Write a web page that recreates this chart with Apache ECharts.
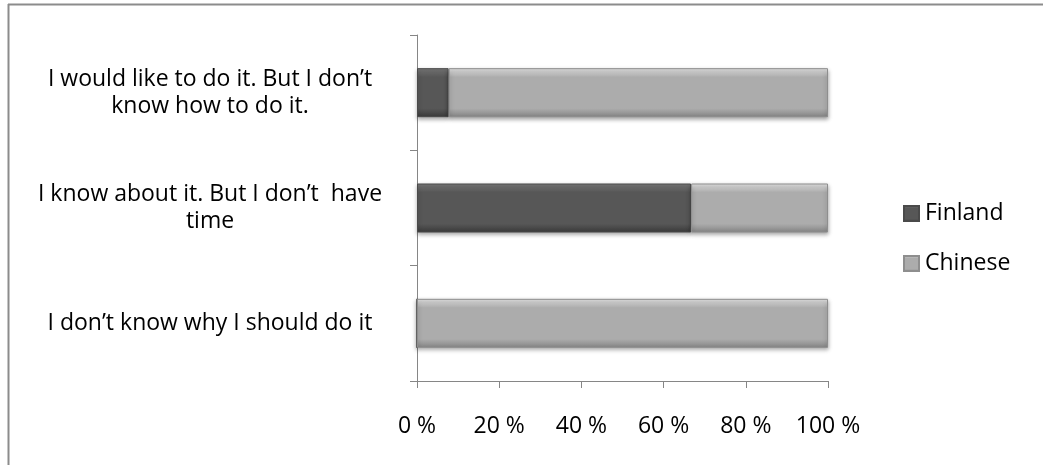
<!DOCTYPE html>
<html>
<head>
<meta charset="utf-8">
<script src="https://cdn.jsdelivr.net/npm/echarts@6/dist/echarts.min.js"></script>
<style>
    html, body {margin: 0; padding: 0; background: #fff;}
    #chart {width: 1043px; height: 465px;}
</style>
</head>
<body>
<div id="chart"></div>
<script>
// categories, bottom to top (as echarts lays them out)
var categories = [
    'I don\u2019t know why I should do it',
    'I know about it. But I don\u2019t  have\ntime',
    'I would like to do it. But I don\u2019t\nknow how to do it.'
];
var seriesNames = ['Finland', 'Chinese'];
var finland = [0, 66.7, 7.7];
var chinese = [100, 33.3, 92.3];
var xTicks = [0, 20, 40, 60, 80, 100];

var font = 'Open Sans';

// bevelled look: light top edge, flat middle, dark bottom edge
function grad(top, mid, bottom) {
    return new echarts.graphic.LinearGradient(0, 0, 0, 1, [
        {offset: 0, color: top},
        {offset: 0.18, color: mid},
        {offset: 0.82, color: mid},
        {offset: 1, color: bottom}
    ]);
}

var chart = echarts.init(document.getElementById('chart'));
chart.setOption({
    backgroundColor: '#fff',
    animation: false,
    grid: {left: 417, right: 215, top: 35, bottom: 84},
    legend: {
        orient: 'vertical',
        left: 903,
        top: 202,
        padding: 0,
        itemGap: 27,
        itemWidth: 15,
        itemHeight: 15,
        icon: 'rect',
        data: seriesNames,
        textStyle: {fontFamily: font, fontSize: 23, color: '#000', padding: [0, 0, 0, 1]}
    },
    xAxis: {
        type: 'value',
        min: 0,
        max: 100,
        interval: 20,
        splitLine: {show: false},
        axisLine: {show: true, lineStyle: {color: '#868686', width: 1}},
        axisTick: {show: true, length: 7, lineStyle: {color: '#868686'}},
        axisLabel: {
            margin: 34,
            fontFamily: font,
            fontSize: 23,
            color: '#000',
            formatter: function (v) {
                return xTicks.indexOf(v) >= 0 ? v + ' %' : '';
            }
        }
    },
    yAxis: {
        type: 'category',
        data: categories,
        axisLine: {show: true, lineStyle: {color: '#868686', width: 1}},
        axisTick: {show: true, length: 7, lineStyle: {color: '#868686'}},
        axisLabel: {
            margin: 207,
            align: 'center',
            fontFamily: font,
            fontSize: 23,
            lineHeight: 27,
            color: '#000'
        }
    },
    series: [
        {
            name: 'Finland',
            type: 'bar',
            stack: 'all',
            barWidth: 49,
            data: finland,
            itemStyle: {
                color: grad('#7a7a7a', '#575757', '#3a3a3a'),
                borderColor: '#4a4a4a',
                borderWidth: 1,
                shadowColor: 'rgba(0,0,0,0.35)',
                shadowBlur: 4,
                shadowOffsetY: 2
            }
        },
        {
            name: 'Chinese',
            type: 'bar',
            stack: 'all',
            barWidth: 49,
            data: chinese,
            itemStyle: {
                color: grad('#e6e6e6', '#acacac', '#858585'),
                borderColor: '#8e8e8e',
                borderWidth: 1,
                shadowColor: 'rgba(0,0,0,0.35)',
                shadowBlur: 4,
                shadowOffsetY: 2
            }
        }
    ],
    graphic: [
        // outer frame (only top and left edges fall inside the picture)
        {type: 'line', shape: {x1: 8, y1: 4.5, x2: 1043, y2: 4.5}, style: {stroke: '#8c8c8c', lineWidth: 2}},
        {type: 'line', shape: {x1: 8.5, y1: 4, x2: 8.5, y2: 465}, style: {stroke: '#8c8c8c', lineWidth: 2}}
    ]
});
</script>
</body>
</html>
